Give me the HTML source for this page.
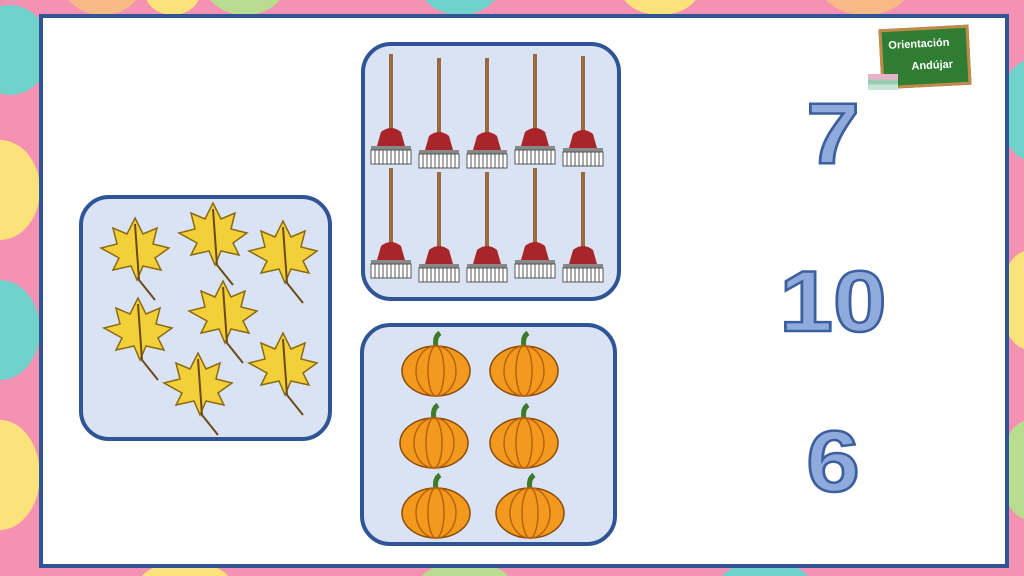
<!DOCTYPE html>
<html><head><meta charset="utf-8"><style>
html,body{margin:0;width:1024px;height:576px;overflow:hidden}
body{background:#f591b2;position:relative;font-family:"Liberation Sans",sans-serif}
.c{position:absolute;border-radius:50%}
.frame{position:absolute;left:39px;top:14px;width:962px;height:546px;background:#fff;border:4px solid #2f5597}
.box{position:absolute;background:#dae3f3;border:4px solid #2f5597;border-radius:30px;box-sizing:border-box}
.num{position:absolute;font-weight:bold;color:#8faadc;-webkit-text-stroke:2.5px #3d5f9e;font-size:86px;line-height:1;text-align:center;width:200px;transform:scaleX(1.12)}
</style></head><body>
<div class="c" style="left:-30px;top:5px;width:80px;height:90px;background:#6fd3cc"></div>
<div class="c" style="left:-40px;top:140px;width:80px;height:100px;background:#fbe27a"></div>
<div class="c" style="left:-40px;top:280px;width:80px;height:100px;background:#6fd3cc"></div>
<div class="c" style="left:-40px;top:420px;width:80px;height:110px;background:#fbe27a"></div>
<div class="c" style="left:65px;top:-40px;width:75px;height:55px;background:#f8b986"></div>
<div class="c" style="left:145px;top:-30px;width:55px;height:45px;background:#fbe27a"></div>
<div class="c" style="left:205px;top:-45px;width:80px;height:60px;background:#b9dc8e"></div>
<div class="c" style="left:420px;top:-45px;width:80px;height:60px;background:#6fd3cc"></div>
<div class="c" style="left:620px;top:-40px;width:80px;height:55px;background:#fbe27a"></div>
<div class="c" style="left:820px;top:-45px;width:90px;height:60px;background:#f8b986"></div>
<div class="c" style="left:1000px;top:60px;width:60px;height:100px;background:#6fd3cc"></div>
<div class="c" style="left:1000px;top:250px;width:60px;height:100px;background:#fbe27a"></div>
<div class="c" style="left:1000px;top:420px;width:60px;height:100px;background:#b9dc8e"></div>
<div class="c" style="left:140px;top:562px;width:90px;height:40px;background:#fbe27a"></div>
<div class="c" style="left:420px;top:562px;width:90px;height:40px;background:#b9dc8e"></div>
<div class="c" style="left:720px;top:562px;width:90px;height:40px;background:#6fd3cc"></div>
<div class="frame"></div>

<div class="box" style="left:361px;top:42px;width:260px;height:259px">
<svg width="252" height="251" viewBox="0 0 252 251">
<defs><g id="rk">
<rect x="-2" y="0" width="4" height="78" fill="#9b6a3c"/>
<path d="M-10 78 Q0 70 10 78 L14 92 L-14 92 Z" fill="#a8262a"/>
<rect x="-20" y="92" width="40" height="4" fill="#888"/>
<path d="M-20 96 h40 v14 h-40z" fill="#fff" stroke="#555" stroke-width="1"/>
<path d="M-16 96v14M-12 96v14M-8 96v14M-4 96v14M0 96v14M4 96v14M8 96v14M12 96v14M16 96v14" stroke="#555" stroke-width="1"/>
</g></defs>
<use href="#rk" x="26" y="8"/><use href="#rk" x="74" y="12"/><use href="#rk" x="122" y="12"/><use href="#rk" x="170" y="8"/><use href="#rk" x="218" y="10"/>
<use href="#rk" x="26" y="122"/><use href="#rk" x="74" y="126"/><use href="#rk" x="122" y="126"/><use href="#rk" x="170" y="122"/><use href="#rk" x="218" y="126"/>
</svg></div>

<div class="box" style="left:79px;top:195px;width:253px;height:246px">
<svg width="245" height="238" viewBox="0 0 245 238">
<defs><g id="lf">
<path d="M0 -36 L8 -20 L22 -26 L18 -10 L34 -6 L20 4 L26 16 L8 12 L2 26 L-4 12 L-22 16 L-16 4 L-34 -6 L-18 -10 L-22 -26 L-8 -20Z" fill="#f3d03a" stroke="#8a6a10" stroke-width="1.5"/>
<path d="M0 -30 L4 26 L20 46" stroke="#6b4a1a" stroke-width="2" fill="none"/>
</g></defs>
<use href="#lf" x="52" y="55"/><use href="#lf" x="130" y="40"/><use href="#lf" x="200" y="58"/>
<use href="#lf" x="55" y="135"/><use href="#lf" x="140" y="118"/><use href="#lf" x="200" y="170"/>
<use href="#lf" x="115" y="190"/>
</svg></div>

<div class="box" style="left:360px;top:323px;width:257px;height:223px">
<svg width="249" height="215" viewBox="0 0 249 215">
<defs><g id="pk">
<path d="M0 -20 q-2 -10 4 -14" stroke="#3f7a2a" stroke-width="5" fill="none"/>
<ellipse cx="0" cy="4" rx="34" ry="25" fill="#f39a1e" stroke="#8a4a0a" stroke-width="1.5"/>
<ellipse cx="0" cy="4" rx="20" ry="25" fill="none" stroke="#b8620e" stroke-width="1.5"/>
<ellipse cx="0" cy="4" rx="8" ry="25" fill="none" stroke="#b8620e" stroke-width="1.5"/>
</g></defs>
<use href="#pk" x="72" y="40"/><use href="#pk" x="160" y="40"/>
<use href="#pk" x="70" y="112"/><use href="#pk" x="160" y="112"/>
<use href="#pk" x="72" y="182"/><use href="#pk" x="166" y="182"/>
</svg></div>

<div style="position:absolute;left:880px;top:27px;width:90px;height:60px;background:#2e7d32;border:3px solid #c08a4a;box-sizing:border-box;color:#fff;font-weight:bold;font-size:11px;transform:rotate(-3deg)">
<div style="position:absolute;left:6px;top:8px">Orientación</div><div style="position:absolute;left:28px;top:30px">Andújar</div></div>
<div style="position:absolute;left:868px;top:74px;width:30px;height:16px;background:linear-gradient(#e8b3c8 0 33%,#9ccbb5 33% 66%,#c5e6d5 66%)"></div>

<div class="num" style="left:733px;top:91px">7</div>
<div class="num" style="left:733px;top:259px">10</div>
<div class="num" style="left:733px;top:419px">6</div>
</body></html>
